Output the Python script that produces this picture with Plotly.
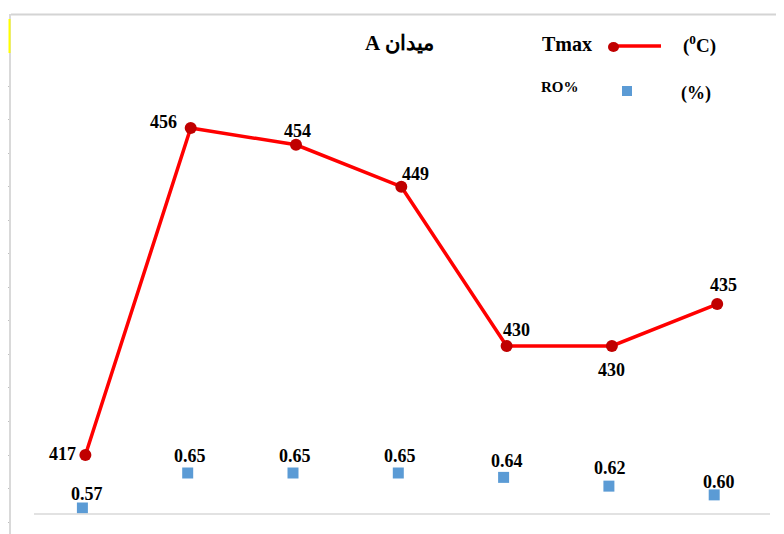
import plotly.graph_objects as go

samples = [1, 2, 3, 4, 5, 6, 7]
tmax = [417, 456, 454, 449, 430, 430, 435]
ro = [0.57, 0.65, 0.65, 0.65, 0.64, 0.62, 0.60]
left_ticks = [409, 413, 417, 421, 425, 429, 433, 437, 441, 445, 449, 453, 457, 461]

# label offsets (pixels, from each point)
tmax_dx = [-23, -27, 1, 14, 10, 0, 6]
tmax_dy = [1, 6, 14, 13, 16, -24, 19]
ro_dx = [5, 2, 2, 2, 3, 1, 5]
ro_dy = [14, 17, 17, 17, 16, 18, 13]

OFF = 8  # page body margin
W, H = 784 - OFF, 534 - OFF
L, T = 11 - OFF, 14 - OFF
PW, PH = W - L, H - T


def px(x):
    return (x - OFF - L) / PW


def py(y):
    return (H - (y - OFF)) / PH


FONT = "Liberation Serif"
RED = "#ff0000"
DRED = "#c00000"
BLUE = "#5b9bd5"

fig = go.Figure()
fig.add_trace(go.Scatter(
    x=samples, y=tmax, mode="lines+markers", xaxis="x", yaxis="y",
    line=dict(color=RED, width=3.5),
    marker=dict(color=DRED, size=12, symbol="circle"),
    cliponaxis=False, showlegend=False, name="Tmax"))
fig.add_trace(go.Scatter(
    x=samples, y=ro, mode="markers", xaxis="x2", yaxis="y2",
    marker=dict(color=BLUE, size=11, symbol="square"),
    cliponaxis=False, showlegend=False, name="RO%"))

shapes = [
    dict(type="line", xref="paper", yref="paper", x0=px(34), x1=px(770), y0=py(514), y1=py(514),
         line=dict(color="#d9d9d9", width=1.5)),
    dict(type="line", xref="paper", yref="paper", x0=0, x1=1, y0=py(14.5), y1=py(14.5),
         line=dict(color="#d4d4d4", width=2)),
    dict(type="line", xref="paper", yref="paper", x0=px(9.5), x1=px(9.5), y0=py(19), y1=py(53),
         line=dict(color="#ffff00", width=2)),
    dict(type="line", xref="paper", yref="paper", x0=px(613), x1=px(661), y0=py(46), y1=py(46),
         line=dict(color=RED, width=3.5)),
    dict(type="circle", xref="paper", yref="paper", x0=px(608), x1=px(619), y0=py(42), y1=py(52),
         fillcolor=DRED, line=dict(color=DRED, width=0)),
    dict(type="rect", xref="paper", yref="paper", x0=px(622), x1=px(632), y0=py(86), y1=py(96),
         fillcolor=BLUE, line=dict(width=0)),
]


def ann(text, x, y, size):
    return dict(text=text, x=px(x), y=py(y), xref="paper", yref="paper",
                xanchor="center", yanchor="middle", showarrow=False,
                font=dict(family=FONT, size=size, color="black"))


annotations = [
    ann("<b>\u202bمیدان A\u202c</b>", 399, 43, 21),
    ann("<b>Tmax</b>", 567, 44, 20),
    ann("<b>(<sup>0</sup>C)</b>", 699, 44, 19),
    ann("<b>RO%</b>", 560, 87, 15),
    ann("<b>(%)</b>", 696, 93, 18),
]
for s, v, dx, dy in zip(samples, tmax, tmax_dx, tmax_dy):
    annotations.append(dict(text=f"<b>{v}</b>", x=s, y=v, xref="x", yref="y",
                            xshift=dx, yshift=dy, xanchor="center", yanchor="middle",
                            showarrow=False, font=dict(family=FONT, size=18, color="black")))
for s, v, dx, dy in zip(samples, ro, ro_dx, ro_dy):
    annotations.append(dict(text=f"<b>{v:.2f}</b>", x=s, y=v, xref="x2", yref="y2",
                            xshift=dx, yshift=dy, xanchor="center", yanchor="middle",
                            showarrow=False, font=dict(family=FONT, size=18, color="black")))

s1 = (455 - 128) / (456 - 417)
y1min = 417 - (534 - 455) / s1
y1max = y1min + PH / s1
s2 = (508 - 473) / (0.65 - 0.57)
y2min = 0.57 - (534 - 508) / s2
y2max = y2min + PH / s2
sx = 105.3
xmin = 1 - (85.4 - 11) / sx
xmax = xmin + PW / sx
x2min = 1 - (82.4 - 11) / sx
x2max = x2min + PW / sx

fig.update_layout(
    width=W, height=H,
    margin=dict(l=L, r=0, t=T, b=0),
    paper_bgcolor="white", plot_bgcolor="white",
    showlegend=False,
    xaxis=dict(range=[xmin, xmax], visible=False, showgrid=False, zeroline=False),
    xaxis2=dict(range=[x2min, x2max], overlaying="x", visible=False, showgrid=False, zeroline=False),
    yaxis=dict(range=[y1min, y1max], showgrid=False, zeroline=False, showline=True,
               linecolor="#d9d9d9", linewidth=1.5, ticks="outside", ticklen=3,
               tickcolor="#bfbfbf", tickvals=left_ticks, showticklabels=False),
    yaxis2=dict(range=[y2min, y2max], overlaying="y", side="right", visible=False,
                showgrid=False, zeroline=False),
    shapes=shapes, annotations=annotations,
)

fig.write_html("out.html")
